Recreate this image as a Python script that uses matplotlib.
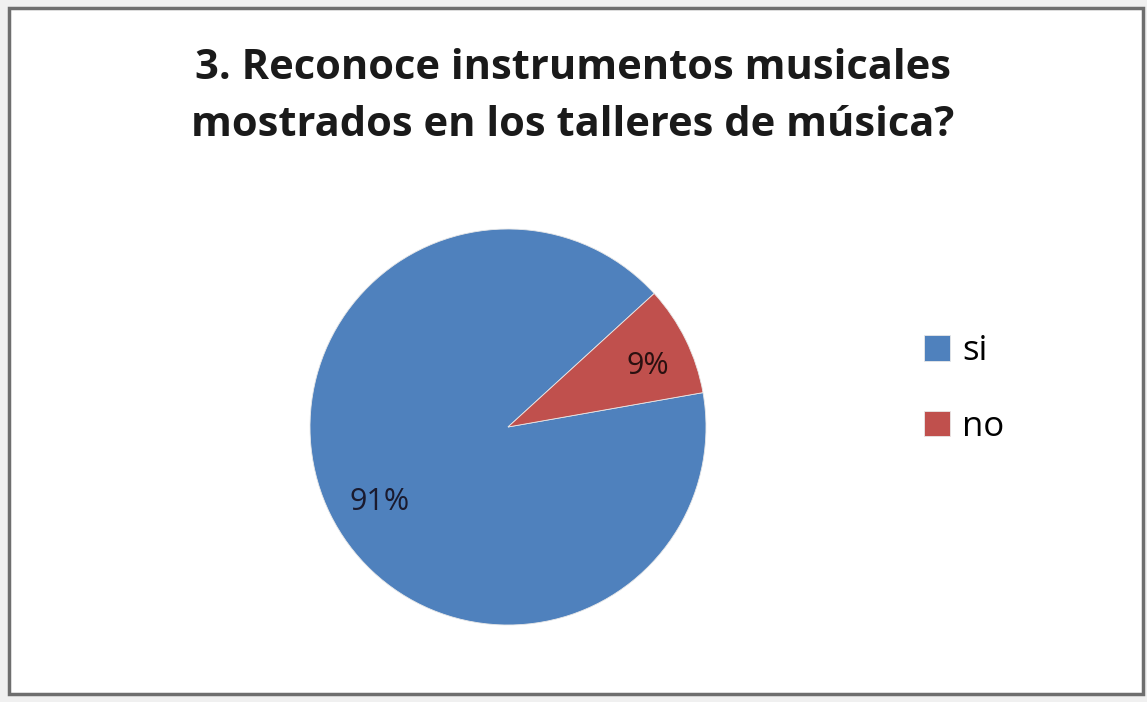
import matplotlib.pyplot as plt
from matplotlib.patches import Rectangle

labels = ['si', 'no']
values = [91, 9]
colors = ['#4F81BD', '#C0504D']
title = '3. Reconoce instrumentos musicales\nmostrados en los talleres de música?'

W, H = 1147, 702
fig = plt.figure(figsize=(W / 100, H / 100), dpi=100)
plt.rcParams['font.family'] = ['Open Sans', 'DejaVu Sans']

# excel frame
fig.patches.append(Rectangle((0, 0), 1, 1, transform=fig.transFigure,
                             facecolor='#f0f0f0', edgecolor='none', zorder=-2))
fig.patches.append(Rectangle((9 / W, 8 / H), 1134 / W, 686 / H, transform=fig.transFigure,
                             facecolor='white', edgecolor='#6e6e6e', linewidth=2.5, zorder=-1))

# pie axes: center (508, 427), radius ~197
cx, cy, r = 508, 427, 198
ax = fig.add_axes([(cx - r) / W, 1 - (cy + r) / H, 2 * r / W, 2 * r / H])
wedges, texts = ax.pie(values, colors=colors, startangle=10, counterclock=False,
                       radius=1, wedgeprops=dict(edgecolor='#e8e8e8', linewidth=0.6))
ax.set_xlim(-1, 1)
ax.set_ylim(-1, 1)
ax.set_aspect('auto')
ax.axis('off')

# percentage labels
pct = [f'{v}%' for v in values]
ax.text((380 - cx) / r, (cy - 502) / r, pct[0], ha='center', va='center',
        fontsize=22, color='#1a1a2e')
ax.text((648 - cx) / r, (cy - 366) / r, pct[1], ha='center', va='center',
        fontsize=22, color='#2a1010')

fig.text(573 / W, 1 - 97 / H, title, ha='center', va='center', fontsize=30,
         fontweight='bold', linespacing=1.5, color='#1a1a1a')

leg = fig.legend(wedges, labels, loc='center left', bbox_to_anchor=(893 / W, 1 - 389 / H),
                 frameon=False, fontsize=25, handlelength=0.75, handleheight=0.75,
                 handletextpad=0.35, labelspacing=1.2)

fig.savefig('out.png', dpi=100)
